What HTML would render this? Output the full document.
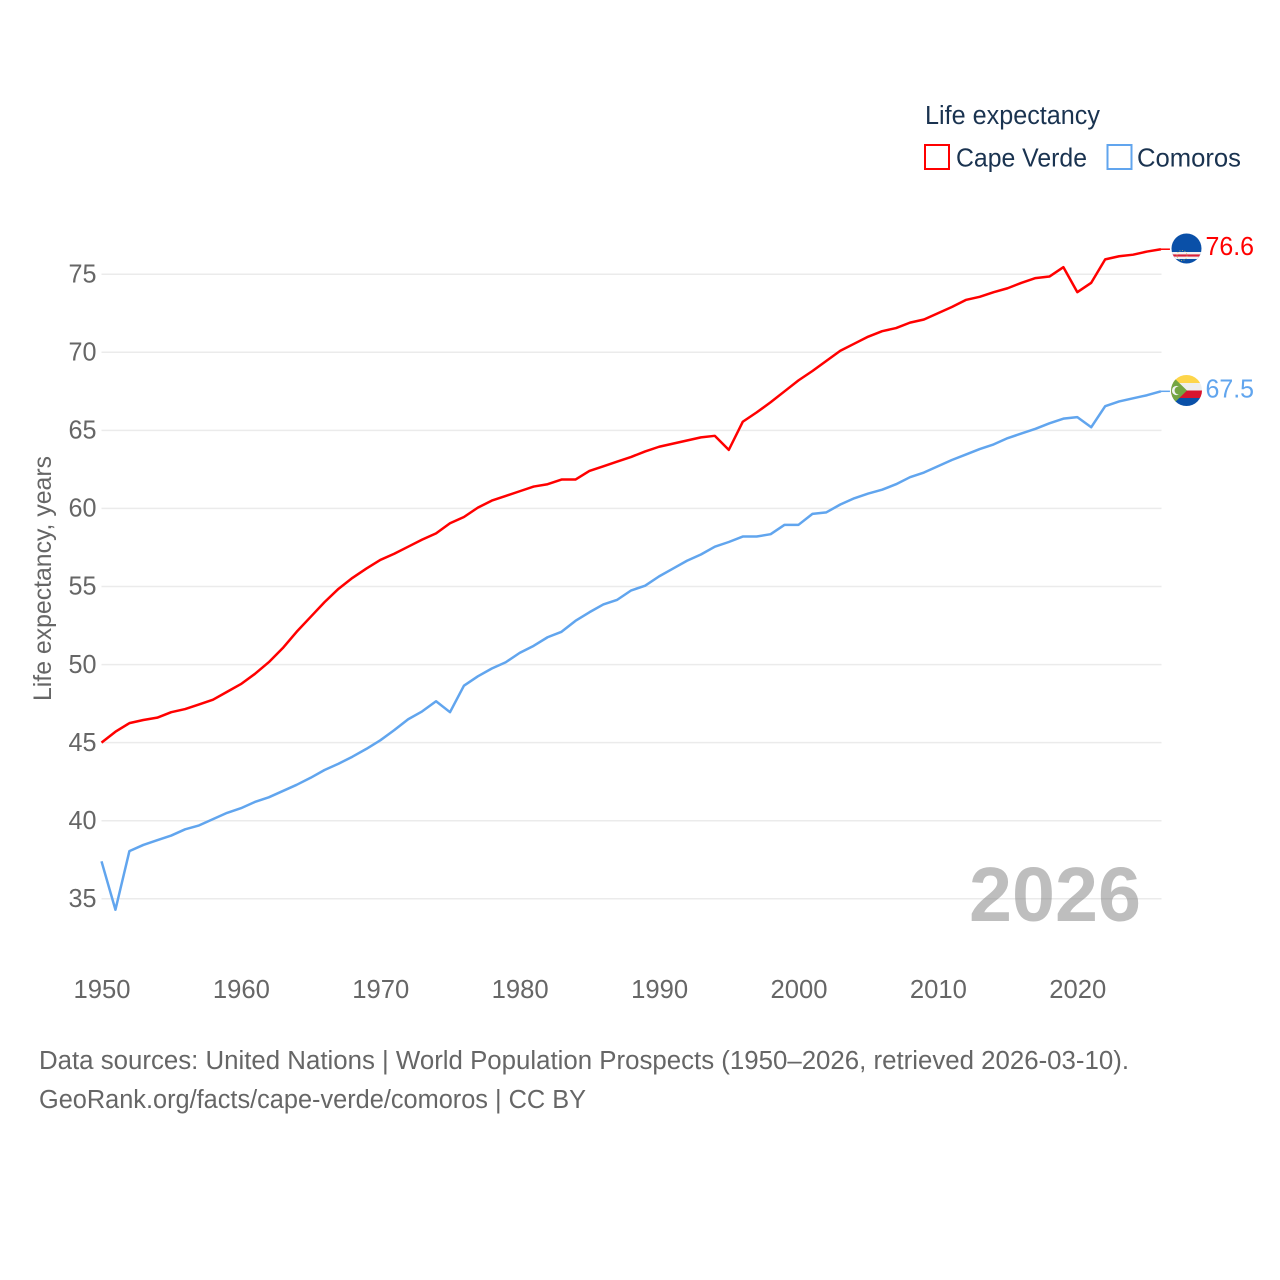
<!DOCTYPE html>
<html lang="en">
<head>
<meta charset="utf-8">
<title>Life expectancy: Cape Verde and Comoros</title>
<style>
html,body{margin:0;padding:0;background:#fff;width:1280px;height:1280px;overflow:hidden}
svg{display:block;font-family:"Liberation Sans",sans-serif}
</style>
</head>
<body>
<svg id="chart" xmlns="http://www.w3.org/2000/svg" width="1280" height="1280" viewBox="0 0 1280 1280">
  <rect x="0" y="0" width="1280" height="1280" fill="#fff"/>
  <g id="grid"></g>
  <text x="969" y="921" font-size="77" font-weight="700" fill="#777" fill-opacity="0.48" textLength="172" lengthAdjust="spacingAndGlyphs">2026</text>
  <g id="yticks"></g>
  <g id="xticks"></g>
  <text transform="translate(51,701) rotate(-90)" font-size="25" fill="#666" textLength="245" lengthAdjust="spacingAndGlyphs">Life expectancy, years</text>
  <g id="series"></g>

  <g id="flag-cape-verde">
    <clipPath id="clip-cv"><circle cx="1186.5" cy="248.5" r="15"/></clipPath>
    <g clip-path="url(#clip-cv)">
      <rect x="1171" y="233" width="31" height="31" fill="#0a50a8"/>
      <rect x="1171" y="252" width="31" height="7" fill="#f2f2f2"/>
      <rect x="1171" y="254.4" width="31" height="2.2" fill="#d8213a"/>
      <circle cx="1182" cy="255.5" r="5" fill="none" stroke="#d9c65a" stroke-width="1" stroke-dasharray="1 1.6" opacity="0.75"/>
    </g>
  </g>
  <g id="flag-comoros">
    <clipPath id="clip-km"><circle cx="1186.5" cy="390.5" r="15.5"/></clipPath>
    <g clip-path="url(#clip-km)">
      <rect x="1171" y="375" width="31" height="8" fill="#fdd54a"/>
      <rect x="1171" y="383" width="31" height="7.5" fill="#eeeeee"/>
      <rect x="1171" y="390.5" width="31" height="7.5" fill="#d8142e"/>
      <rect x="1171" y="398" width="31" height="8" fill="#0a50a8"/>
      <path d="M1171 375 L1187 390.5 L1171 406 Z" fill="#74a543"/>
      <circle cx="1176.5" cy="390.5" r="4.6" fill="#f2f2f2"/>
      <circle cx="1178.6" cy="390.5" r="4" fill="#74a543"/>
    </g>
  </g>

  <g>
    <text x="925" y="124" font-size="25.5" fill="#1a3350" textLength="175" lengthAdjust="spacingAndGlyphs">Life expectancy</text>
    <g>
      <rect x="925" y="145" width="24" height="24" fill="#fff" stroke="#ff0000" stroke-width="2"/>
      <text x="956" y="166.500" font-size="26" fill="#1a3350" textLength="131" lengthAdjust="spacingAndGlyphs">Cape Verde</text>
    </g>
    <g>
      <rect x="1107.500" y="145" width="24" height="24" fill="#fff" stroke="#61a5ee" stroke-width="2"/>
      <text x="1137" y="166.500" font-size="26" fill="#1a3350" textLength="104" lengthAdjust="spacingAndGlyphs">Comoros</text>
    </g>
  </g>

  <g>
    <text x="39" y="1069" font-size="25.500" fill="#666" textLength="1090" lengthAdjust="spacingAndGlyphs">Data sources: United Nations | World Population Prospects (1950–2026, retrieved 2026-03-10).</text>
    <text x="39" y="1108" font-size="25.500" fill="#666" textLength="547" lengthAdjust="spacingAndGlyphs">GeoRank.org/facts/cape-verde/comoros | CC BY</text>
  </g>
</svg>
<script>
const firstYear = 1950;
const yTickValues = [35, 40, 45, 50, 55, 60, 65, 70, 75];
const xTickValues = [1950, 1960, 1970, 1980, 1990, 2000, 2010, 2020];
const capeVerde = [
  45.0, 45.7, 46.25, 46.45, 46.6, 46.95, 47.15, 47.45, 47.75, 48.25,
  48.75, 49.4, 50.15, 51.05, 52.1, 53.05, 54.0, 54.85, 55.55, 56.15,
  56.7, 57.1, 57.55, 58.0, 58.4, 59.05, 59.45, 60.05, 60.5, 60.8,
  61.1, 61.4, 61.55, 61.85, 61.85, 62.4, 62.7, 63.0, 63.3, 63.65,
  63.95, 64.15, 64.35, 64.55, 64.65, 63.75, 65.55, 66.15, 66.8, 67.5,
  68.2, 68.8, 69.45, 70.1, 70.55, 71.0, 71.35, 71.55, 71.9, 72.1,
  72.5, 72.9, 73.35, 73.55, 73.85, 74.1, 74.45, 74.75, 74.85, 75.45,
  73.85, 74.45, 75.95, 76.15, 76.25, 76.45, 76.6
];
const comoros = [
  37.4, 34.3, 38.05, 38.45, 38.75, 39.05, 39.45, 39.7, 40.1, 40.5,
  40.8, 41.2, 41.5, 41.9, 42.3, 42.75, 43.25, 43.65, 44.1, 44.6,
  45.15, 45.8, 46.5, 47.0, 47.65, 46.95, 48.65, 49.25, 49.75, 50.15,
  50.75, 51.2, 51.75, 52.1, 52.8, 53.35, 53.85, 54.15, 54.75, 55.05,
  55.65, 56.15, 56.65, 57.05, 57.55, 57.85, 58.2, 58.2, 58.35, 58.95,
  58.95, 59.65, 59.75, 60.25, 60.65, 60.95, 61.2, 61.55, 62.0, 62.3,
  62.7, 63.1, 63.45, 63.8, 64.1, 64.5, 64.8, 65.1, 65.45, 65.75,
  65.85, 65.2, 66.55, 66.85, 67.05, 67.25, 67.5
];

const NS = 'http://www.w3.org/2000/svg';
function xScale(year) { return 101.5 + (year - 1950) * 13.94; }
function yScale(v) { return 898.8 - (v - 35) * 15.615; }
function make(tag, attrs, parent, content) {
  const el = document.createElementNS(NS, tag);
  for (const k in attrs) el.setAttribute(k, attrs[k]);
  if (content !== undefined) el.textContent = content;
  parent.appendChild(el);
  return el;
}

const gridGroup = document.getElementById('grid');
const yTickGroup = document.getElementById('yticks');
const xTickGroup = document.getElementById('xticks');
const seriesGroup = document.getElementById('series');

yTickValues.forEach(function (v) {
  const line = make('line', {x1: 101.5, x2: 1161.5, y1: yScale(v), y2: yScale(v), stroke: '#dddddd', 'stroke-opacity': 0.6, 'stroke-width': 1.5}, gridGroup);
  
  
  const label = make('text', {x: 68.5, y: yScale(v) + 8.2, 'font-size': 25.5, fill: '#666', textLength: 28, lengthAdjust: 'spacingAndGlyphs'}, yTickGroup, String(v));
  
  
});

xTickValues.forEach(function (y) {
  const label = make('text', {x: xScale(y) - 28, y: 998, 'font-size': 25.5, fill: '#666', textLength: 57, lengthAdjust: 'spacingAndGlyphs'}, xTickGroup, String(y));
  
  
});

function drawSeries(values, color, key, labelWidth) {
  const pts = values.map(function (v, i) {
    return xScale(firstYear + i).toFixed(2) + ',' + yScale(v).toFixed(2);
  }).join(' ');
  const last = values[values.length - 1];
  const lastYear = firstYear + values.length - 1;
  const yLast = yScale(last);

  const path = make('polyline', {points: pts, fill: 'none', stroke: color, 'stroke-width': 2.5, 'stroke-linejoin': 'round'}, seriesGroup);
  
  

  const connector = make('line', {x1: xScale(lastYear), x2: xScale(lastYear) + 9, y1: yLast, y2: yLast, stroke: color, 'stroke-width': 1.5}, seriesGroup);
  
  

  const valueLabel = make('text', {x: 1205.5, y: yLast + 6, 'font-size': 26, fill: color, textLength: labelWidth, lengthAdjust: 'spacingAndGlyphs'}, seriesGroup, last.toFixed(1));
  
  
}

drawSeries(capeVerde, '#ff0000', 'cape-verde', 48.5);
drawSeries(comoros, '#61a5ee', 'comoros', 48.5);
</script>
</body>
</html>
